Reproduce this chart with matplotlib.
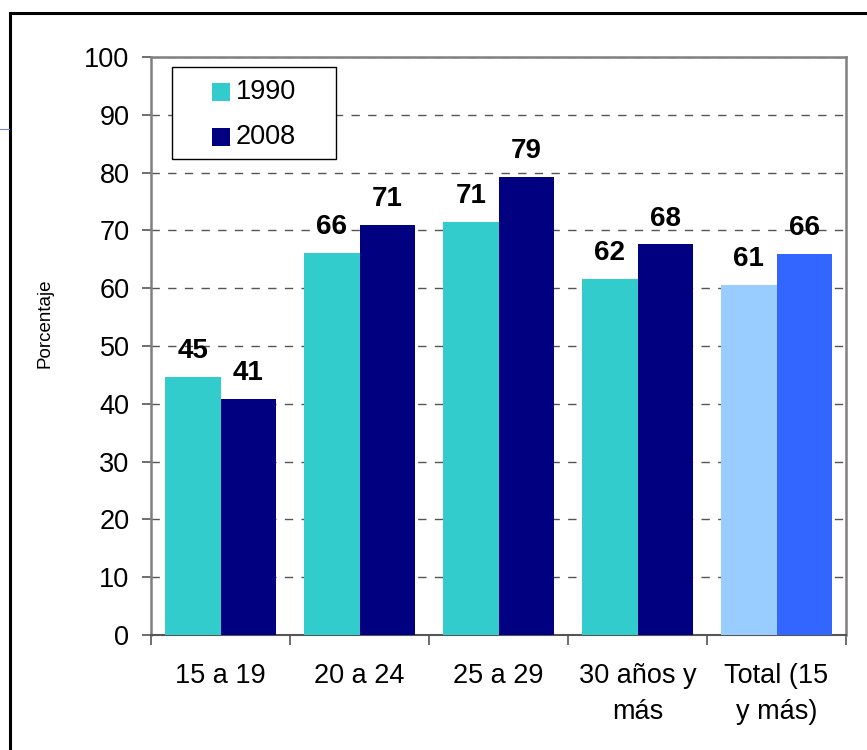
import matplotlib.pyplot as plt
from matplotlib.patches import Rectangle
from matplotlib.lines import Line2D

plt.rcParams['font.family'] = ['Liberation Sans', 'DejaVu Sans']

# datos
categorias = ['15 a 19', '20 a 24', '25 a 29', '30 años y\nmás', 'Total (15\ny más)']
valores_1990 = [44.7, 66.1, 71.5, 61.6, 60.6]
valores_2008 = [40.8, 70.9, 79.3, 67.6, 65.9]
etiquetas_1990 = ['45', '66', '71', '62', '61']
etiquetas_2008 = ['41', '71', '79', '68', '66']
colores_1990 = ['#33CCCC', '#33CCCC', '#33CCCC', '#33CCCC', '#99CCFF']
colores_2008 = ['#000080', '#000080', '#000080', '#000080', '#3366FF']
series = ['1990', '2008']

fig = plt.figure(figsize=(8.67, 7.5), dpi=100)
ax = fig.add_axes([151/867, 1 - 635/750, 695/867, 578/750])

x = list(range(len(categorias)))
ancho = 0.4
b1 = ax.bar([i - ancho/2 for i in x], valores_1990, width=ancho, color=colores_1990, zorder=3)
b2 = ax.bar([i + ancho/2 for i in x], valores_2008, width=ancho, color=colores_2008, zorder=3)

# etiquetas de valores
for barras, etiquetas in ((b1, etiquetas_1990), (b2, etiquetas_2008)):
    for rect, et in zip(barras, etiquetas):
        ax.annotate(et, (rect.get_x() + rect.get_width()/2, rect.get_height()),
                    xytext=(0, 13.5), textcoords='offset points',
                    ha='center', va='baseline', fontsize=20, fontweight='bold', zorder=4)

ax.set_xlim(-0.5, len(categorias) - 0.5)
ax.set_ylim(0, 100)
ax.set_yticks(range(0, 101, 10))
ax.yaxis.grid(True, linestyle=(0, (6, 6)), color='#555555', linewidth=1.0, zorder=1)
ax.set_axisbelow(True)

ax.set_xticks(x)
ax.set_xticklabels(categorias, fontsize=19.5, linespacing=1.5)
ax.set_xticks([i - 0.5 for i in range(len(categorias) + 1)], minor=True)
ax.tick_params(axis='x', which='major', length=0, pad=20)
ax.tick_params(axis='x', which='minor', length=7, width=1.2, color='#555555', direction='out')
ax.tick_params(axis='y', length=6.5, width=1.2, color='#555555', labelsize=19.5, pad=9)

for lado in ['top', 'right', 'left']:
    ax.spines[lado].set_color('#808080')
    ax.spines[lado].set_linewidth(1.8)
ax.spines['bottom'].set_color('#555555')
ax.spines['bottom'].set_linewidth(1.5)

ax.set_ylabel('Porcentaje', fontsize=13.5)
ax.yaxis.set_label_coords(-0.14, 0.54)

# leyenda dibujada a mano
x0, y0 = (172-151)/695, (635-159)/578
ax.add_patch(Rectangle((x0, y0), (336-172)/695, (159-67)/578, transform=ax.transAxes,
                       facecolor='white', edgecolor='black', linewidth=1.0, zorder=5))
for k, (nombre, color) in enumerate(zip(series, [colores_1990[0], colores_2008[0]])):
    cy = (635 - (92 + 45*k))/578
    ax.add_patch(Rectangle(((212-151)/695, cy - 9/578), 18/695, 18/578, transform=ax.transAxes,
                           facecolor=color, edgecolor='none', zorder=6))
    ax.text((236-151)/695, cy, nombre, transform=ax.transAxes, fontsize=19.5,
            va='center', ha='left', zorder=6)

# marco exterior
fig.add_artist(Rectangle((10/867, -0.1), 1.0, (750-13)/750 + 0.1, transform=fig.transFigure,
                         fill=False, edgecolor='black', linewidth=2.2))
fig.add_artist(Line2D([0, 9/867], [1 - 129/750]*2, transform=fig.transFigure,
                      color='#8080ff', linewidth=0.8))

fig.savefig('out.png', dpi=100)
